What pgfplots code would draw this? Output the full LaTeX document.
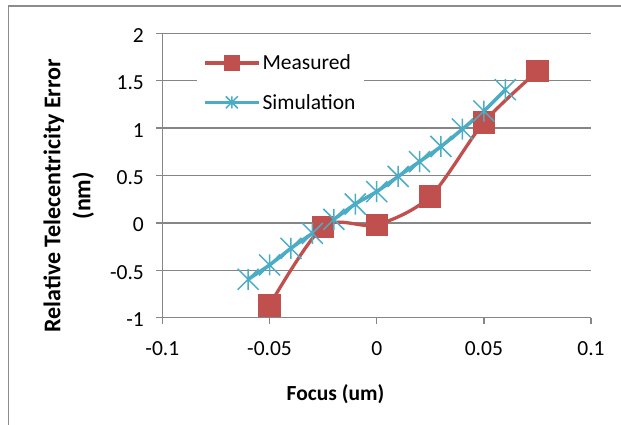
\documentclass[border=0pt]{standalone}
\usepackage{fontspec}
\setmainfont{Carlito}
\usepackage{pgfplots}
\pgfplotsset{compat=1.18}

\definecolor{meas}{RGB}{192,80,77}
\definecolor{simu}{RGB}{75,172,198}
\definecolor{gridc}{RGB}{134,134,134}
\definecolor{framec}{RGB}{140,140,140}

% Excel-like star: an X with a vertical bar
\pgfdeclareplotmark{xstar}{%
  \pgfpathmoveto{\pgfqpoint{-\pgfplotmarksize}{-\pgfplotmarksize}}%
  \pgfpathlineto{\pgfqpoint{\pgfplotmarksize}{\pgfplotmarksize}}%
  \pgfpathmoveto{\pgfqpoint{-\pgfplotmarksize}{\pgfplotmarksize}}%
  \pgfpathlineto{\pgfqpoint{\pgfplotmarksize}{-\pgfplotmarksize}}%
  \pgfpathmoveto{\pgfqpoint{0pt}{-\pgfplotmarksize}}%
  \pgfpathlineto{\pgfqpoint{0pt}{\pgfplotmarksize}}%
  \pgfusepathqstroke}

\newcommand\fs{\fontsize{21.5}{25.8}\selectfont}

\begin{document}
\begin{tikzpicture}
\draw[framec, line width=1.4pt] (8.5pt,-10pt) -- (8.5pt,419pt) -- (640pt,419pt);
\begin{axis}[
    at={(162.4pt,107.3pt)}, anchor=south west,
    scale only axis, width=428.6pt, height=284.4pt,
    xmin=-0.1, xmax=0.1, ymin=-1, ymax=2,
    xtick={-0.1,-0.05,0,0.05,0.1},
    xticklabels={-0.1,-0.05,0,0.05,0.1},
    ytick={-1,-0.5,0,0.5,1,1.5,2},
    yticklabels={-1,-0.5,0,0.5,1,1.5,2},
    axis x line*=bottom, axis y line*=left,
    axis line style={gridc, line width=1.3pt, -},
    tick style={gridc, line width=1.3pt},
    tick align=outside, major tick length=6pt,
    ymajorgrids, grid style={gridc, line width=1.3pt},
    tick label style={font=\fs},
    xticklabel style={anchor=center, yshift=-25pt},
    yticklabel style={anchor=east, xshift=-9pt, yshift=-2pt},
    legend style={at={(axis cs:-0.0839,1.84)}, anchor=north west,
        draw=none, fill=white, font=\fs, inner xsep=6pt, inner ysep=4pt,
        row sep=19pt},
    legend cell align=left,
    legend image code/.code={%
        \draw[mark repeat=2, mark phase=2, mark size=6pt]
        plot coordinates {(0pt,0pt) (27pt,0pt) (54pt,0pt)};},
]
\addplot[meas, line width=3.3pt, smooth, tension=0.5,
    mark=square*, mark size=9.5pt, mark options={fill=meas, draw=none}]
coordinates {
(-0.05,-0.87) (-0.025,-0.04) (0,-0.02) (0.025,0.28) (0.05,1.06) (0.075,1.60)
};
\addlegendentry{Measured}

\addplot[simu, line width=3.5pt, smooth, tension=0.5,
    mark=xstar, mark size=10.5pt, mark options={line width=1.5pt}]
coordinates {
(-0.06,-0.595) (-0.05,-0.444) (-0.04,-0.268) (-0.03,-0.11) (-0.02,0.038)
(-0.01,0.199) (0,0.33) (0.01,0.49) (0.02,0.646) (0.03,0.806)
(0.04,0.99) (0.05,1.18) (0.06,1.405)
};
\addlegendentry{Simulation}
\end{axis}

\node[rotate=90, align=center, font=\fontsize{24}{28}\selectfont\bfseries]
    at (68.7pt,229.2pt) {Relative Telecentricity Error\\[2pt](nm)};
\node[font=\fs\bfseries] at (335.5pt,31pt) {Focus (um)};

\pgfresetboundingbox
\path[use as bounding box] (0,0) rectangle (621pt,425pt);
\end{tikzpicture}
\end{document}
